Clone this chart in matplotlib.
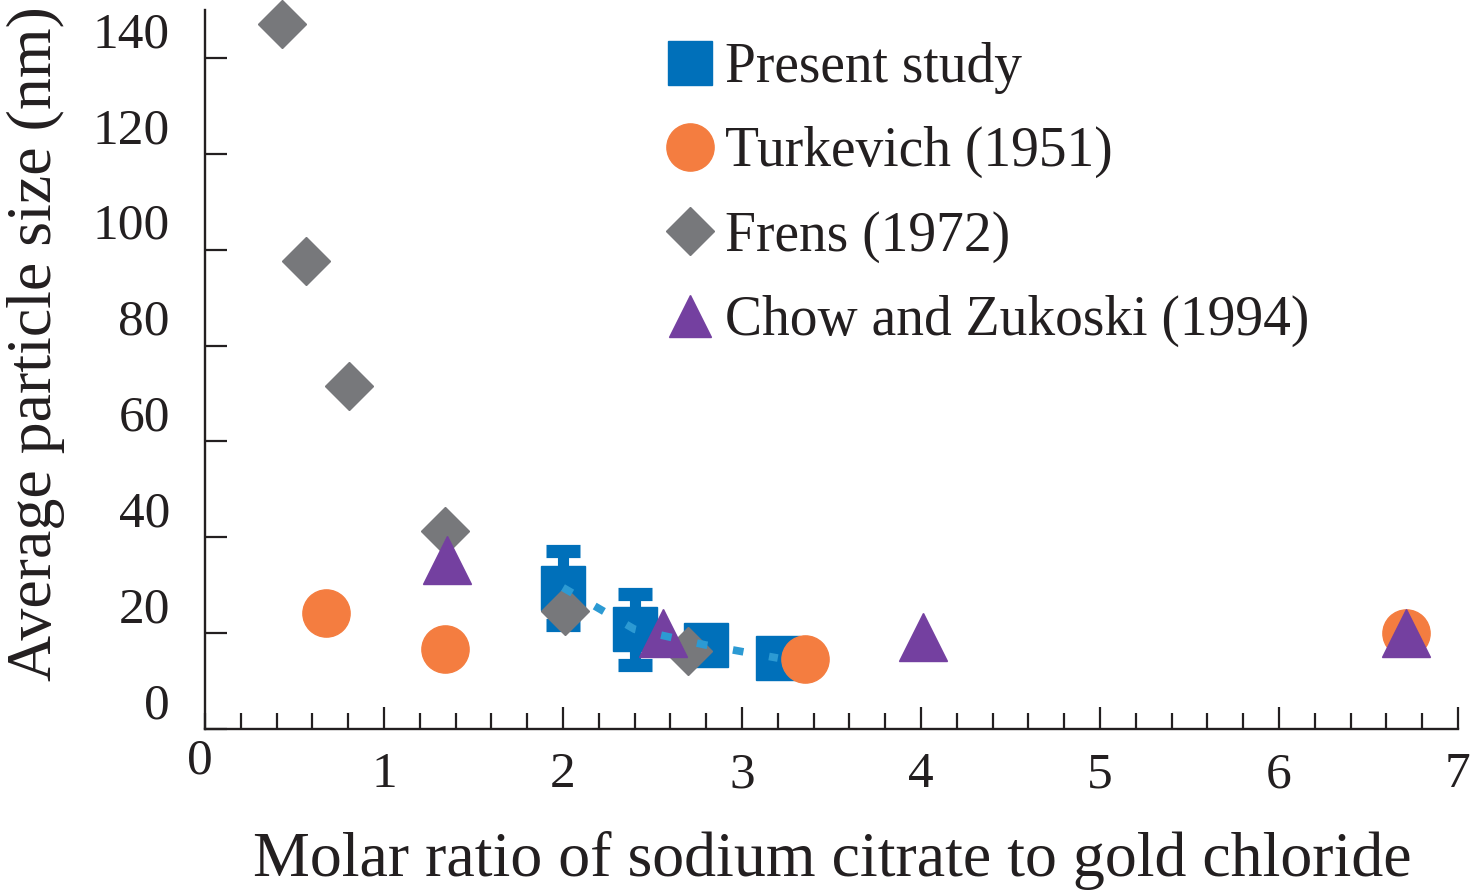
import matplotlib
matplotlib.use('Agg')
import matplotlib.pyplot as plt
from matplotlib.lines import Line2D
from matplotlib.ticker import MultipleLocator
from matplotlib.transforms import offset_copy

# ---- data ----
present_x = [2.0, 2.4, 2.8, 3.2]
present_y = [29.5, 20.8, 17.5, 14.8]
present_err = [7.7, 7.4, 2.0, 2.0]

turk_x = [0.675, 1.34, 3.35, 6.71]
turk_y = [24.3, 16.7, 14.7, 20.0]

frens_x = [0.43, 0.567, 0.807, 1.34, 2.01, 2.70]
frens_y = [147.0, 97.7, 71.6, 41.3, 24.6, 16.3]

chow_x = [1.35, 2.56, 4.01, 6.71]
chow_y = [35.3, 20.1, 19.1, 20.1]

x_ticks = [1, 2, 3, 4, 5, 6, 7]
y_ticks = [0, 20, 40, 60, 80, 100, 120, 140]
series_labels = ["Present study", "Turkevich (1951)", "Frens (1972)",
                 "Chow and Zukoski (1994)"]
x_label = "Molar ratio of sodium citrate to gold chloride"
y_label = "Average particle size (nm)"

# ---- style ----
BLUE = "#0070BA"
LBLUE = "#2C9AD3"
ORANGE = "#F47D40"
GRAY = "#77787B"
PURPLE = "#7440A0"
INK = "#231F20"
FONT = ["Liberation Serif", "DejaVu Serif"]

plt.rcParams['font.family'] = FONT
plt.rcParams['text.color'] = INK

W, H = 1471, 892
fig = plt.figure(figsize=(W / 100, H / 100), dpi=100)
ax = fig.add_axes([205 / W, 163 / H, (1458 - 205) / W, (729 - 10) / H])
ax.set_xlim(0, 7)
ax.set_ylim(0, 150)

for s in ['top', 'right']:
    ax.spines[s].set_visible(False)
for s in ['left', 'bottom']:
    ax.spines[s].set_color(INK)
    ax.spines[s].set_linewidth(1.7)

ax.set_xticks(x_ticks)
ax.xaxis.set_minor_locator(MultipleLocator(0.2))
ax.set_yticks(y_ticks)
ax.tick_params(axis='both', which='both', direction='in', color=INK,
               labelbottom=False, labelleft=False)
ax.tick_params(axis='both', which='major', length=16, width=1.6)
ax.tick_params(axis='x', which='minor', length=11.5, width=1.6)

# ---- data marks ----
ax.errorbar(present_x, present_y, yerr=present_err, fmt='s', color=BLUE,
            markersize=31, elinewidth=8, capsize=12, capthick=9.5,
            zorder=3, clip_on=False)
ax.plot(turk_x, turk_y, 'o', color=ORANGE, markersize=34, zorder=4,
        clip_on=False)
ax.plot(frens_x, frens_y, 'D', color=GRAY, markersize=24.3, zorder=4,
        clip_on=False)
ax.plot(chow_x, chow_y, '^', color=PURPLE, markersize=35, zorder=5,
        clip_on=False)
ax.plot(present_x, present_y, color=LBLUE, lw=5.5,
        linestyle=(0, (1.4, 3.4)), zorder=6, clip_on=False)

# ---- tick labels ----
ytr = offset_copy(ax.get_yaxis_transform(), fig=fig, x=-35, y=23, units='dots')
for v in y_ticks:
    ax.text(0, v, str(v), transform=ytr, ha='right', va='center',
            fontsize=37, color=INK)
xtr = offset_copy(ax.get_xaxis_transform(), fig=fig, x=0, y=-46, units='dots')
for v in x_ticks:
    ax.text(v, 0, str(v), transform=xtr, ha='center', va='center',
            fontsize=37, color=INK)
otr = offset_copy(ax.get_xaxis_transform(), fig=fig, x=-5, y=-32, units='dots')
ax.text(0, 0, "0", transform=otr, ha='center', va='center', fontsize=37,
        color=INK)

# ---- axis labels ----
fig.text(832 / W, 1 - 860 / H, x_label, ha='center', va='center',
         fontsize=46, color=INK)
fig.text(36 / W, 1 - 344 / H, y_label, ha='center', va='center',
         rotation=90, fontsize=46, color=INK)

# ---- legend ----
handles = [
    Line2D([], [], ls='', marker='s', color=BLUE, markersize=31),
    Line2D([], [], ls='', marker='o', color=ORANGE, markersize=34),
    Line2D([], [], ls='', marker='D', color=GRAY, markersize=24),
    Line2D([], [], ls='', marker='^', color=PURPLE, markersize=30),
]
leg = fig.legend(handles, series_labels, loc='upper left',
                 bbox_to_anchor=(662 / W, 1 - 42 / H), frameon=False,
                 fontsize=40, handlelength=1.0, handletextpad=0.13,
                 labelspacing=0.58, borderpad=0, borderaxespad=0)
for t in leg.get_texts():
    t.set_color(INK)

fig.savefig("out.png", dpi=100)
